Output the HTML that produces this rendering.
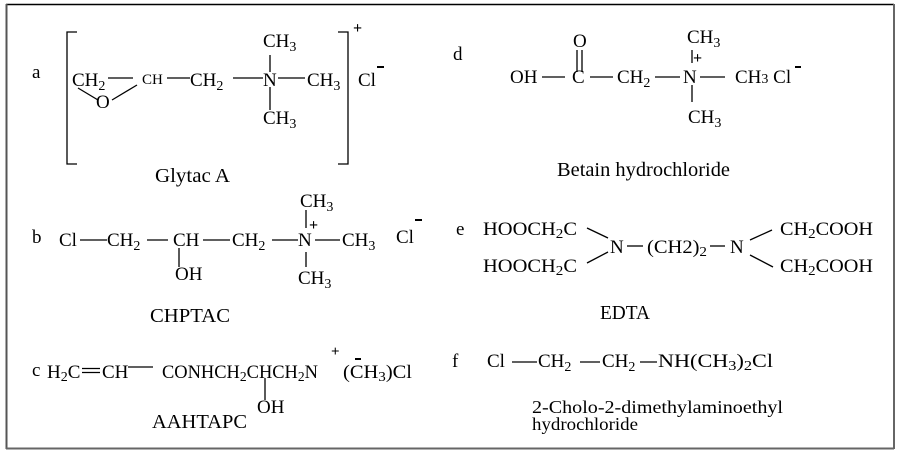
<!DOCTYPE html>
<html><head><meta charset="utf-8"><style>
html,body{margin:0;padding:0;background:#fff;}
svg{display:block;}
text{font-family:"Liberation Serif",serif;fill:#000;}
</style></head><body>
<svg width="899" height="455" viewBox="0 0 899 455" xmlns="http://www.w3.org/2000/svg" font-size="19">
<!-- border -->
<line x1="6" y1="4.5" x2="894" y2="4.5" stroke="#000" stroke-width="1.5"/>
<line x1="6.5" y1="4" x2="6.5" y2="449" stroke="#555" stroke-width="2"/>
<line x1="6" y1="448.5" x2="894" y2="448.5" stroke="#666" stroke-width="2"/>
<line x1="894" y1="4" x2="894" y2="449" stroke="#666" stroke-width="2"/>

<g stroke="#000" stroke-width="1.3" fill="none">
<!-- a -->
<polyline points="77,32 67,32 67,164 77,164"/>
<polyline points="338,32 348,32 348,164 338,164"/>
<line x1="108" y1="78" x2="133" y2="78"/>
<line x1="167" y1="78" x2="190" y2="78"/>
<line x1="233" y1="78" x2="263" y2="78"/>
<line x1="278" y1="78" x2="305" y2="78"/>
<line x1="270" y1="55" x2="270" y2="72"/>
<line x1="270" y1="87" x2="270" y2="110"/>
<line x1="78" y1="88" x2="98" y2="100"/>
<line x1="137" y1="85" x2="112" y2="100"/>
<!-- b -->
<line x1="80" y1="240" x2="107" y2="240"/>
<line x1="147" y1="240" x2="168" y2="240"/>
<line x1="179" y1="248" x2="179" y2="267"/>
<line x1="203" y1="240" x2="230" y2="240"/>
<line x1="272" y1="240" x2="298" y2="240"/>
<line x1="315" y1="240" x2="340" y2="240"/>
<line x1="306" y1="210" x2="306" y2="228"/>
<line x1="306" y1="252" x2="306" y2="267"/>
<!-- c -->
<line x1="82" y1="368.5" x2="100" y2="368.5"/>
<line x1="82" y1="372.5" x2="100" y2="372.5"/>
<line x1="128" y1="367" x2="153" y2="367"/>
<line x1="265" y1="378" x2="265" y2="400"/>
<!-- d -->
<line x1="577" y1="50" x2="577" y2="72"/>
<line x1="582" y1="50" x2="582" y2="72"/>
<line x1="542" y1="77" x2="565" y2="77"/>
<line x1="590" y1="77" x2="613" y2="77"/>
<line x1="655" y1="77" x2="680" y2="77"/>
<line x1="700" y1="77" x2="725" y2="77"/>
<line x1="692" y1="50" x2="692" y2="63"/>
<line x1="692" y1="85" x2="692" y2="102"/>
<!-- e -->
<line x1="587" y1="228" x2="608" y2="238"/>
<line x1="587" y1="263" x2="608" y2="252"/>
<line x1="627" y1="246" x2="643" y2="246"/>
<line x1="710" y1="246" x2="725" y2="246"/>
<line x1="750" y1="240" x2="772" y2="230"/>
<line x1="750" y1="255" x2="773" y2="267"/>
<!-- f -->
<line x1="512" y1="362" x2="537" y2="362"/>
<line x1="580" y1="362" x2="600" y2="362"/>
<line x1="640" y1="362" x2="657" y2="362"/>
</g>

<!-- a texts -->
<text x="32" y="78">a</text>
<text x="72" y="86">CH<tspan font-size="14" dy="4">2</tspan></text>
<text x="142" y="84" font-size="15">CH</text>
<text x="190" y="86">CH<tspan font-size="14" dy="4">2</tspan></text>
<text x="263" y="86">N</text>
<text x="307" y="86">CH<tspan font-size="14" dy="4">3</tspan></text>
<text x="263" y="47">CH<tspan font-size="14" dy="4">3</tspan></text>
<text x="263" y="124">CH<tspan font-size="14" dy="4">3</tspan></text>
<text x="96" y="108">O</text>
<text x="353" y="33" font-size="16" font-weight="bold">+</text>
<text x="358" y="86">Cl</text>
<rect x="377" y="66" width="7" height="2"/>
<text x="155" y="182" font-size="20" textLength="75" lengthAdjust="spacingAndGlyphs">Glytac A</text>

<!-- b texts -->
<text x="32" y="243">b</text>
<text x="59" y="246">Cl</text>
<text x="107" y="246">CH<tspan font-size="14" dy="4">2</tspan></text>
<text x="173" y="246">CH</text>
<text x="175" y="280">OH</text>
<text x="232" y="246">CH<tspan font-size="14" dy="4">2</tspan></text>
<text x="298" y="246">N</text>
<text x="309" y="230" font-size="16" font-weight="bold">+</text>
<text x="342" y="246">CH<tspan font-size="14" dy="4">3</tspan></text>
<text x="300" y="207">CH<tspan font-size="14" dy="4">3</tspan></text>
<text x="298" y="284">CH<tspan font-size="14" dy="4">3</tspan></text>
<text x="396" y="243">Cl</text>
<rect x="415" y="219" width="7" height="2"/>
<text x="150" y="322" font-size="20" textLength="80" lengthAdjust="spacingAndGlyphs">CHPTAC</text>

<!-- c texts -->
<text x="32" y="376">c</text>
<text x="47" y="378">H<tspan font-size="14" dy="3">2</tspan><tspan dy="-3">C</tspan></text>
<text x="102" y="378">CH</text>
<text x="162" y="378" textLength="156" lengthAdjust="spacingAndGlyphs">CONHCH<tspan font-size="14" dy="3">2</tspan><tspan dy="-3">CHCH</tspan><tspan font-size="14" dy="3">2</tspan><tspan dy="-3">N</tspan></text>
<text x="331" y="356" font-size="15" font-weight="bold">+</text>
<text x="343" y="378" textLength="69" lengthAdjust="spacingAndGlyphs">(CH<tspan font-size="14" dy="3">3</tspan><tspan dy="-3">)Cl</tspan></text>
<rect x="355" y="358" width="6" height="2"/>
<text x="257" y="413">OH</text>
<text x="152" y="428" font-size="20" textLength="95" lengthAdjust="spacingAndGlyphs">AAHTAPC</text>

<!-- d texts -->
<text x="453" y="60">d</text>
<text x="573" y="47">O</text>
<text x="510" y="83">OH</text>
<text x="572" y="83">C</text>
<text x="617" y="83">CH<tspan font-size="14" dy="4">2</tspan></text>
<text x="683" y="83">N</text>
<text x="693" y="63" font-size="16" font-weight="bold">+</text>
<text x="735" y="83">CH<tspan font-size="14" dy="0">3</tspan><tspan dy="0"> Cl</tspan></text>
<rect x="795" y="66" width="6" height="2"/>
<text x="687" y="43">CH<tspan font-size="14" dy="4">3</tspan></text>
<text x="688" y="123">CH<tspan font-size="14" dy="4">3</tspan></text>
<text x="557" y="176" font-size="20" textLength="173" lengthAdjust="spacingAndGlyphs">Betain hydrochloride</text>

<!-- e texts -->
<text x="456" y="235">e</text>
<text x="483" y="235" textLength="94" lengthAdjust="spacingAndGlyphs">HOOCH<tspan font-size="14" dy="3">2</tspan><tspan dy="-3">C</tspan></text>
<text x="483" y="272" textLength="94" lengthAdjust="spacingAndGlyphs">HOOCH<tspan font-size="14" dy="3">2</tspan><tspan dy="-3">C</tspan></text>
<text x="610" y="253">N</text>
<text x="647" y="253" textLength="60" lengthAdjust="spacingAndGlyphs">(CH2)<tspan font-size="14" dy="3">2</tspan></text>
<text x="730" y="253">N</text>
<text x="780" y="235" textLength="93" lengthAdjust="spacingAndGlyphs">CH<tspan font-size="14" dy="3">2</tspan><tspan dy="-3">COOH</tspan></text>
<text x="780" y="272" textLength="93" lengthAdjust="spacingAndGlyphs">CH<tspan font-size="14" dy="3">2</tspan><tspan dy="-3">COOH</tspan></text>
<text x="600" y="319" font-size="20" textLength="50" lengthAdjust="spacingAndGlyphs">EDTA</text>

<!-- f texts -->
<text x="452" y="367">f</text>
<text x="487" y="367">Cl</text>
<text x="538" y="367">CH<tspan font-size="14" dy="4">2</tspan></text>
<text x="602" y="367">CH<tspan font-size="14" dy="4">2</tspan></text>
<text x="658" y="367" textLength="115" lengthAdjust="spacingAndGlyphs">NH(CH<tspan font-size="14" dy="3">3</tspan><tspan dy="-3">)</tspan><tspan font-size="14" dy="3">2</tspan><tspan dy="-3">Cl</tspan></text>
<text x="532" y="413" font-size="18" textLength="251" lengthAdjust="spacingAndGlyphs">2-Cholo-2-dimethylaminoethyl</text>
<text x="532" y="430" font-size="18" textLength="106" lengthAdjust="spacingAndGlyphs">hydrochloride</text>
</svg>
</body></html>
